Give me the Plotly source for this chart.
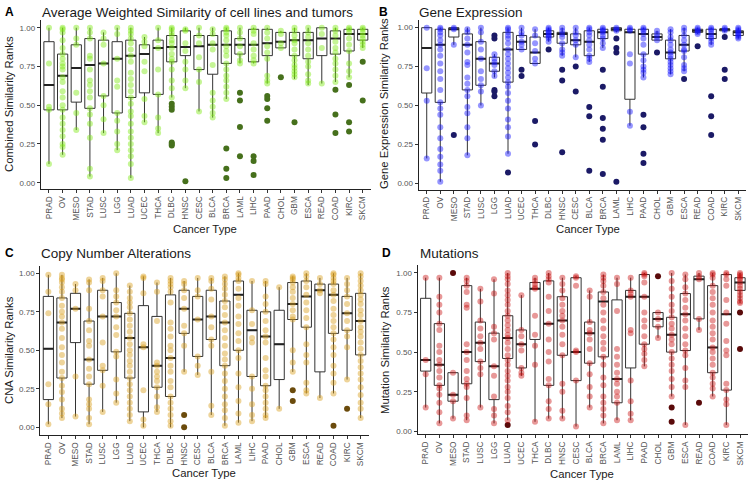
import plotly.graph_objects as go

W, H = 749, 483

categories = ["PRAD", "OV", "MESO", "STAD", "LUSC", "LGG", "LUAD", "UCEC", "THCA", "DLBC",
              "HNSC", "CESC", "BLCA", "BRCA", "LAML", "LIHC", "PAAD", "CHOL", "GBM", "ESCA",
              "READ", "COAD", "KIRC", "SKCM"]

# ---------------- Panel A: combined ----------------
a_q1 = [0.47, 0.47, 0.52, 0.48, 0.56, 0.45, 0.55, 0.58, 0.57, 0.78, 0.82, 0.73, 0.70, 0.77, 0.83, 0.78, 0.82, 0.87, 0.82, 0.80, 0.82, 0.83, 0.85, 0.92]
a_med = [0.63, 0.69, 0.74, 0.76, 0.77, 0.80, 0.82, 0.83, 0.87, 0.875, 0.875, 0.88, 0.89, 0.89, 0.89, 0.89, 0.90, 0.91, 0.92, 0.92, 0.93, 0.93, 0.96, 0.96]
a_q3 = [0.91, 0.83, 0.89, 0.93, 0.92, 0.91, 0.92, 0.89, 0.92, 0.95, 0.98, 0.95, 0.95, 0.98, 0.93, 0.99, 0.99, 0.97, 0.97, 0.97, 1.00, 0.98, 0.99, 0.99]
a_lo = [0.12, 0.18, 0.34, 0.04, 0.32, 0.21, 0.03, 0.39, 0.32, 0.55, 0.61, 0.46, 0.42, 0.54, 0.77, 0.77, 0.64, 0.87, 0.67, 0.63, 0.64, 0.65, 0.68, 0.87]
a_hi = [1.00, 1.00, 1.00, 1.00, 0.97, 1.00, 1.00, 0.94, 1.00, 1.00, 1.00, 1.00, 1.00, 1.00, 1.00, 1.00, 1.00, 0.98, 1.00, 1.00, 1.00, 1.00, 1.00, 1.00]
a_points = [
    [1.0, 0.77, 0.49, 0.47, 0.12],
    [1.0, 0.99, 0.97, 0.92, 0.87, 0.83, 0.80, 0.77, 0.75, 0.73, 0.68, 0.65, 0.59, 0.55, 0.50, 0.47, 0.42, 0.38, 0.34, 0.30, 0.25, 0.23, 0.18],
    [1.0, 0.93, 0.89, 0.58, 0.45, 0.34],
    [1.0, 0.97, 0.93, 0.82, 0.80, 0.73, 0.66, 0.63, 0.59, 0.55, 0.48, 0.44, 0.38, 0.29, 0.09, 0.04],
    [0.97, 0.93, 0.89, 0.77, 0.56, 0.50, 0.41, 0.32],
    [1.0, 0.96, 0.80, 0.66, 0.62, 0.45, 0.40, 0.33, 0.25, 0.21],
    [1.0, 0.98, 0.96, 0.93, 0.90, 0.86, 0.82, 0.78, 0.71, 0.67, 0.63, 0.59, 0.55, 0.51, 0.46, 0.43, 0.38, 0.33, 0.29, 0.25, 0.21, 0.17, 0.12, 0.03],
    [0.94, 0.91, 0.88, 0.78, 0.72, 0.54, 0.43, 0.39],
    [1.0, 0.92, 0.87, 0.73, 0.57, 0.42, 0.35, 0.32],
    [1.0, 0.99, 0.97, 0.95, 0.92, 0.90, 0.87, 0.83, 0.80, 0.78, 0.73, 0.66, 0.61, 0.55],
    [0.99, 0.98, 0.90, 0.85, 0.78, 0.73, 0.66, 0.61],
    [1.0, 0.95, 0.90, 0.81, 0.73, 0.65, 0.46],
    [0.99, 0.96, 0.90, 0.86, 0.76, 0.58, 0.53, 0.49, 0.45, 0.42],
    [1.0, 0.99, 0.97, 0.95, 0.92, 0.88, 0.85, 0.82, 0.77, 0.73, 0.69, 0.66, 0.62, 0.58, 0.54],
    [1.0, 0.97, 0.93, 0.88, 0.83, 0.79, 0.77],
    [1.0, 0.98, 0.96, 0.90, 0.86, 0.82, 0.79, 0.77],
    [1.0, 0.97, 0.93, 0.88, 0.84, 0.80, 0.69, 0.66, 0.64],
    [0.98, 0.96, 0.90, 0.87],
    [1.0, 0.98, 0.95, 0.92, 0.90, 0.86, 0.82, 0.79, 0.76, 0.74, 0.72, 0.70, 0.68],
    [1.0, 0.97, 0.94, 0.90, 0.86, 0.82, 0.78, 0.75, 0.70, 0.66, 0.64],
    [1.0, 0.96, 0.87, 0.64],
    [1.0, 0.98, 0.95, 0.91, 0.87, 0.84, 0.80, 0.77, 0.73, 0.69, 0.65],
    [1.0, 0.99, 0.97, 0.93, 0.89, 0.85, 0.77, 0.72, 0.68],
    [1.0, 0.99, 0.97, 0.95, 0.93, 0.91, 0.89, 0.87],
]
a_out = [[], [], [], [], [], [], [], [], [], [0.51, 0.49, 0.47, 0.26, 0.25, 0.24],
         [0.01], [], [], [0.22, 0.09, 0.03], [0.58, 0.53, 0.36, 0.17], [0.17, 0.14, 0.05],
         [0.56, 0.54, 0.48, 0.40], [0.68], [0.39], [], [], [0.60, 0.44, 0.32], [0.63, 0.39, 0.33], [0.78, 0.53]]

# ---------------- Panel B: gene expression ----------------
b_q1 = [0.58, 0.52, 0.94, 0.60, 0.63, 0.72, 0.65, 0.86, 0.77, 0.94, 0.90, 0.89, 0.82, 0.93, 0.98, 0.54, 0.83, 0.92, 0.80, 0.85, 0.97, 0.93, 0.98, 0.95]
b_med = [0.87, 0.89, 0.99, 0.89, 0.80, 0.77, 0.86, 0.91, 0.84, 0.96, 0.96, 0.92, 0.91, 0.97, 0.99, 0.97, 0.96, 0.94, 0.84, 0.89, 0.98, 0.96, 0.99, 0.97]
b_q3 = [1.00, 0.99, 1.00, 0.96, 0.91, 0.81, 0.97, 0.95, 0.94, 0.98, 0.97, 0.96, 0.98, 0.99, 1.00, 0.99, 0.99, 0.96, 0.92, 0.95, 0.99, 0.99, 0.99, 0.98]
b_lo = [0.16, 0.01, 0.89, 0.18, 0.50, 0.68, 0.19, 0.86, 0.77, 0.91, 0.82, 0.81, 0.78, 0.87, 0.97, 0.37, 0.68, 0.92, 0.70, 0.72, 0.96, 0.89, 0.97, 0.93]
b_hi = [1.00, 1.00, 1.00, 1.00, 1.00, 0.83, 1.00, 1.00, 0.99, 1.00, 1.00, 1.00, 1.00, 1.00, 1.00, 1.00, 1.00, 0.98, 0.99, 1.00, 1.00, 1.00, 1.00, 1.00]
b_points = [
    [1.0, 0.74, 0.53, 0.16],
    [1.0, 0.99, 0.97, 0.95, 0.92, 0.89, 0.86, 0.82, 0.77, 0.72, 0.67, 0.60, 0.52, 0.48, 0.44, 0.36, 0.29, 0.22, 0.17, 0.12, 0.08, 0.01],
    [1.0, 0.99, 0.89],
    [0.99, 0.97, 0.93, 0.89, 0.84, 0.78, 0.76, 0.68, 0.64, 0.60, 0.56, 0.49, 0.45, 0.36, 0.29, 0.18],
    [1.0, 0.97, 0.91, 0.86, 0.80, 0.72, 0.67, 0.63, 0.59, 0.50],
    [0.83, 0.80, 0.78, 0.76, 0.72, 0.69],
    [1.0, 0.99, 0.97, 0.95, 0.93, 0.90, 0.86, 0.83, 0.80, 0.77, 0.74, 0.71, 0.68, 0.65, 0.62, 0.58, 0.53, 0.48, 0.41, 0.36, 0.30, 0.19],
    [1.0, 0.97, 0.95, 0.91, 0.89, 0.86],
    [0.99, 0.95, 0.90, 0.85, 0.80, 0.77],
    [1.0, 0.99, 0.98, 0.97, 0.96, 0.95, 0.94, 0.93, 0.91],
    [1.0, 0.98, 0.96, 0.94, 0.90, 0.86, 0.84, 0.82],
    [1.0, 0.97, 0.95, 0.92, 0.89, 0.81],
    [1.0, 0.99, 0.97, 0.95, 0.92, 0.89, 0.86, 0.82, 0.80, 0.78],
    [1.0, 0.99, 0.98, 0.97, 0.95, 0.93, 0.90, 0.87],
    [1.0, 0.99, 0.98],
    [1.0, 0.99, 0.98, 0.83, 0.77, 0.46, 0.37],
    [1.0, 0.99, 0.98, 0.96, 0.93, 0.89, 0.83, 0.79, 0.75, 0.73, 0.71, 0.68],
    [0.98, 0.96, 0.94, 0.92],
    [0.99, 0.97, 0.94, 0.92, 0.89, 0.86, 0.84, 0.82, 0.80, 0.78, 0.76, 0.74, 0.72, 0.70],
    [1.0, 0.98, 0.95, 0.92, 0.89, 0.86, 0.85, 0.81, 0.76, 0.74, 0.72],
    [1.0, 0.99, 0.98, 0.97, 0.96],
    [1.0, 0.99, 0.98, 0.96, 0.94, 0.93, 0.91, 0.89],
    [1.0, 0.99, 0.98],
    [1.0, 0.99, 0.98, 0.97, 0.96, 0.95, 0.94, 0.93],
]
b_out = [[], [], [0.31], [], [], [0.95, 0.93, 0.60, 0.59, 0.56], [0.07], [0.73, 0.69], [0.40, 0.25], [0.86],
         [0.73, 0.66, 0.20], [0.75, 0.59], [0.49, 0.43, 0.08], [0.73, 0.62, 0.42, 0.35, 0.28, 0.06],
         [0.93, 0.87, 0.84, 0.01], [], [0.44, 0.36, 0.19, 0.13], [0.84], [], [0.67], [0.88],
         [0.56, 0.43, 0.31], [0.94, 0.73, 0.67], []]

# ---------------- Panel C: copy number alterations ----------------
c_q1 = [0.18, 0.32, 0.55, 0.28, 0.37, 0.49, 0.32, 0.10, 0.26, 0.20, 0.61, 0.46, 0.57, 0.40, 0.50, 0.33, 0.27, 0.31, 0.70, 0.65, 0.36, 0.61, 0.63, 0.47]
c_med = [0.51, 0.68, 0.77, 0.44, 0.72, 0.72, 0.58, 0.52, 0.40, 0.45, 0.77, 0.70, 0.72, 0.68, 0.86, 0.63, 0.59, 0.54, 0.80, 0.85, 0.89, 0.86, 0.74, 0.69]
c_q3 = [0.85, 0.84, 0.87, 0.69, 0.89, 0.81, 0.74, 0.79, 0.72, 0.86, 0.89, 0.85, 0.89, 0.82, 0.95, 0.76, 0.75, 0.76, 0.94, 0.95, 0.93, 0.93, 0.85, 0.87]
c_lo = [0.02, 0.06, 0.07, 0.02, 0.10, 0.16, 0.04, 0.00, 0.10, 0.00, 0.36, 0.34, 0.08, 0.01, 0.03, 0.04, 0.06, 0.12, 0.36, 0.22, 0.19, 0.22, 0.31, 0.06]
c_hi = [0.99, 0.99, 0.93, 0.96, 0.97, 1.00, 0.92, 0.98, 0.94, 0.97, 0.95, 0.97, 0.97, 0.98, 1.00, 0.95, 0.95, 0.91, 0.98, 1.00, 0.97, 1.00, 0.97, 1.00]
c_points = [
    [0.99, 0.88, 0.74, 0.28, 0.15, 0.02],
    [0.99, 0.97, 0.96, 0.94, 0.91, 0.88, 0.84, 0.79, 0.75, 0.72, 0.68, 0.64, 0.58, 0.52, 0.47, 0.42, 0.36, 0.32, 0.27, 0.23, 0.18, 0.12, 0.09, 0.06],
    [0.93, 0.89, 0.77, 0.33, 0.07],
    [0.96, 0.94, 0.89, 0.77, 0.69, 0.63, 0.56, 0.53, 0.44, 0.38, 0.33, 0.28, 0.18, 0.15, 0.12, 0.06, 0.02],
    [0.97, 0.95, 0.89, 0.85, 0.72, 0.55, 0.40, 0.37, 0.27, 0.10],
    [1.0, 0.89, 0.85, 0.81, 0.76, 0.72, 0.65, 0.60, 0.49, 0.46, 0.31, 0.22, 0.16],
    [0.92, 0.88, 0.84, 0.81, 0.78, 0.74, 0.70, 0.66, 0.62, 0.58, 0.54, 0.50, 0.47, 0.43, 0.40, 0.36, 0.32, 0.28, 0.24, 0.20, 0.16, 0.12, 0.08, 0.04],
    [0.98, 0.97, 0.87, 0.54, 0.52, 0.24, 0.05, 0.01],
    [0.94, 0.88, 0.69, 0.42, 0.40, 0.36, 0.33, 0.30, 0.26, 0.20, 0.13, 0.10],
    [0.97, 0.95, 0.93, 0.91, 0.88, 0.81, 0.68, 0.64, 0.59, 0.53, 0.50, 0.45, 0.40, 0.36, 0.30, 0.26, 0.20, 0.16, 0.12, 0.08, 0.04, 0.01],
    [0.95, 0.93, 0.89, 0.84, 0.77, 0.66, 0.61, 0.53, 0.36],
    [0.97, 0.89, 0.85, 0.70, 0.46, 0.40, 0.34],
    [0.97, 0.95, 0.90, 0.83, 0.72, 0.65, 0.57, 0.53, 0.36, 0.14, 0.08],
    [0.98, 0.96, 0.93, 0.90, 0.86, 0.82, 0.78, 0.73, 0.68, 0.63, 0.58, 0.53, 0.48, 0.44, 0.40, 0.35, 0.30, 0.25, 0.20, 0.15, 0.11, 0.06, 0.01],
    [1.0, 0.99, 0.97, 0.95, 0.90, 0.84, 0.79, 0.72, 0.67, 0.61, 0.56, 0.50, 0.45, 0.35, 0.26, 0.17, 0.09, 0.03],
    [0.95, 0.76, 0.67, 0.58, 0.55, 0.33, 0.25, 0.15, 0.08, 0.04],
    [0.95, 0.93, 0.85, 0.80, 0.75, 0.69, 0.63, 0.59, 0.55, 0.45, 0.37, 0.33, 0.27, 0.24, 0.20, 0.16, 0.12, 0.08, 0.06],
    [0.91, 0.12],
    [0.98, 0.97, 0.96, 0.94, 0.91, 0.88, 0.84, 0.80, 0.76, 0.72, 0.70, 0.50, 0.42, 0.36],
    [1.0, 0.98, 0.95, 0.91, 0.86, 0.81, 0.76, 0.71, 0.65, 0.54, 0.47, 0.42, 0.29, 0.24, 0.22],
    [0.97, 0.93, 0.89, 0.87, 0.19],
    [1.0, 0.99, 0.97, 0.95, 0.93, 0.89, 0.86, 0.82, 0.77, 0.73, 0.69, 0.65, 0.61, 0.57, 0.52, 0.47, 0.40, 0.35, 0.29, 0.22],
    [0.97, 0.93, 0.89, 0.85, 0.80, 0.74, 0.69, 0.63, 0.59, 0.52, 0.31],
    [1.0, 0.98, 0.95, 0.92, 0.89, 0.86, 0.83, 0.80, 0.76, 0.73, 0.69, 0.65, 0.62, 0.59, 0.55, 0.51, 0.47, 0.43, 0.39, 0.35, 0.31, 0.26, 0.21, 0.16, 0.12, 0.06],
]
c_out = [[], [], [], [], [], [], [], [], [], [], [0.08, 0.0], [], [], [], [], [], [], [], [0.24, 0.17], [], [],
         [0.01], [0.12], []]

# ---------------- Panel D: mutations ----------------
d_q1 = [0.38, 0.29, 0.19, 0.30, 0.44, 0.20, 0.46, 0.40, 0.58, 0.29, 0.48, 0.32, 0.43, 0.47, 0.18, 0.40, 0.55, 0.66, 0.50, 0.51, 0.71, 0.37, 0.26, 0.89]
d_med = [0.45, 0.42, 0.23, 0.50, 0.56, 0.41, 0.59, 0.55, 0.90, 0.68, 0.70, 0.50, 0.62, 0.82, 0.33, 0.85, 0.85, 0.71, 0.61, 0.74, 0.96, 0.53, 0.74, 0.94]
d_q3 = [0.84, 0.68, 0.37, 0.92, 0.69, 0.62, 0.73, 0.64, 0.94, 0.95, 0.85, 0.97, 0.69, 0.88, 0.83, 0.89, 0.99, 0.75, 0.72, 0.87, 0.98, 0.92, 0.99, 0.97]
d_lo = [0.15, 0.05, 0.08, 0.07, 0.15, 0.05, 0.07, 0.35, 0.06, 0.08, 0.08, 0.03, 0.15, 0.05, 0.07, 0.07, 0.41, 0.59, 0.22, 0.04, 0.64, 0.22, 0.04, 0.81]
d_hi = [0.97, 0.97, 0.37, 0.97, 0.90, 0.96, 1.00, 0.86, 0.97, 1.00, 0.97, 0.98, 0.89, 0.99, 0.97, 0.97, 1.00, 0.75, 1.00, 0.99, 1.00, 1.00, 1.00, 1.00]
d_points = [
    [0.97, 0.45, 0.36, 0.15],
    [0.97, 0.85, 0.80, 0.75, 0.68, 0.64, 0.54, 0.50, 0.45, 0.42, 0.38, 0.34, 0.29, 0.27, 0.23, 0.18, 0.12, 0.05],
    [0.37, 0.23, 0.19, 0.08],
    [0.97, 0.95, 0.92, 0.88, 0.80, 0.78, 0.55, 0.50, 0.45, 0.38, 0.33, 0.30, 0.28, 0.21, 0.10, 0.07],
    [0.90, 0.82, 0.70, 0.65, 0.60, 0.56, 0.52, 0.44, 0.40, 0.36, 0.15],
    [0.96, 0.87, 0.66, 0.62, 0.58, 0.41, 0.35, 0.22, 0.14, 0.10, 0.05],
    [1.0, 0.98, 0.96, 0.93, 0.89, 0.86, 0.83, 0.80, 0.76, 0.73, 0.70, 0.67, 0.64, 0.61, 0.59, 0.56, 0.52, 0.48, 0.45, 0.42, 0.38, 0.35, 0.32, 0.28, 0.25, 0.21, 0.16, 0.12, 0.07],
    [0.86, 0.64, 0.60, 0.55, 0.51, 0.40, 0.37, 0.35],
    [0.97, 0.95, 0.93, 0.91, 0.90, 0.73, 0.61, 0.54, 0.42, 0.06],
    [1.0, 0.98, 0.96, 0.94, 0.85, 0.76, 0.68, 0.58, 0.50, 0.44, 0.33, 0.29, 0.19, 0.14, 0.08],
    [0.97, 0.93, 0.89, 0.84, 0.80, 0.76, 0.73, 0.70, 0.66, 0.61, 0.55, 0.48, 0.30, 0.25, 0.13, 0.08],
    [0.98, 0.97, 0.92, 0.51, 0.50, 0.32, 0.03],
    [0.89, 0.85, 0.69, 0.64, 0.62, 0.58, 0.52, 0.43, 0.36, 0.28, 0.22, 0.15],
    [0.99, 0.97, 0.95, 0.92, 0.88, 0.84, 0.80, 0.75, 0.70, 0.65, 0.60, 0.56, 0.52, 0.47, 0.42, 0.34, 0.29, 0.22, 0.18, 0.14, 0.10, 0.05],
    [0.97, 0.93, 0.76, 0.52, 0.47, 0.42, 0.37, 0.33, 0.30, 0.25, 0.22, 0.18, 0.07],
    [0.97, 0.89, 0.87, 0.85, 0.64, 0.62, 0.32, 0.19, 0.11, 0.07],
    [1.0, 0.99, 0.98, 0.94, 0.85, 0.75, 0.70, 0.66, 0.60, 0.55, 0.52, 0.49, 0.45, 0.41],
    [0.75, 0.71, 0.66, 0.59],
    [1.0, 0.95, 0.90, 0.85, 0.80, 0.76, 0.72, 0.68, 0.65, 0.61, 0.58, 0.55, 0.50, 0.46, 0.42, 0.38, 0.33, 0.28, 0.22],
    [0.99, 0.96, 0.91, 0.87, 0.83, 0.78, 0.74, 0.70, 0.65, 0.60, 0.55, 0.51, 0.48, 0.40, 0.32, 0.28, 0.04],
    [1.0, 0.98, 0.96, 0.71, 0.64],
    [1.0, 0.99, 0.97, 0.92, 0.88, 0.84, 0.80, 0.75, 0.70, 0.66, 0.62, 0.58, 0.53, 0.50, 0.46, 0.42, 0.37, 0.34, 0.30, 0.27, 0.22],
    [1.0, 0.99, 0.96, 0.92, 0.83, 0.75, 0.68, 0.57, 0.51, 0.48, 0.30, 0.26, 0.20, 0.17, 0.04],
    [1.0, 0.99, 0.98, 0.97, 0.96, 0.94, 0.92, 0.90, 0.88, 0.86, 0.84, 0.82, 0.81],
]
d_out = [[], [], [1.0], [], [], [], [0.04], [], [], [], [], [], [], [], [], [], [], [0.98], [0.15, 0.06], [], [0.18],
         [], [], [0.75, 0.52]]

titles = ["Average Weighted Similarity of cell lines and tumors", "Gene Expression",
          "Copy Number Alterations", "Mutations"]
ytitles = ["Combined Similarity Ranks", "Gene Expression Similarity Ranks",
           "CNA Similarity Ranks", "Mutation Similarity Ranks"]
letters = ["A", "B", "C", "D"]
ytickvals = [0.0, 0.25, 0.5, 0.75, 1.0]
yticktext = ["0.00", "0.25", "0.50", "0.75", "1.00"]

panels = [
    dict(q1=a_q1, med=a_med, q3=a_q3, lo=a_lo, hi=a_hi, pts=a_points, out=a_out,
         light="rgba(127,232,20,0.45)", dark="#46701c",
         px=(40.8, 370.9), py=(20.0, 188.9), yr=(-0.04, 1.05),
         title_xy=(40, 12), letter_xy=(3, 12), ytitle_xy=(9, 104), xtitle_xy=(205, 229)),
    dict(q1=b_q1, med=b_med, q3=b_q3, lo=b_lo, hi=b_hi, pts=b_points, out=b_out,
         light="rgba(20,20,255,0.45)", dark="#1b1a66",
         px=(418.6, 746.4), py=(19.9, 189.5), yr=(-0.04, 1.05),
         title_xy=(417, 12), letter_xy=(377, 12), ytitle_xy=(384, 104), xtitle_xy=(588, 229)),
    dict(q1=c_q1, med=c_med, q3=c_q3, lo=c_lo, hi=c_hi, pts=c_points, out=c_out,
         light="rgba(218,160,30,0.45)", dark="#6b4b0c",
         px=(40.2, 368.8), py=(265.6, 435.0), yr=(-0.05, 1.05),
         title_xy=(39, 253), letter_xy=(3, 253), ytitle_xy=(9, 350), xtitle_xy=(204, 473)),
    dict(q1=d_q1, med=d_med, q3=d_q3, lo=d_lo, hi=d_hi, pts=d_points, out=d_out,
         light="rgba(200,10,10,0.42)", dark="#5a0a0a",
         px=(417.5, 748.2), py=(265.3, 434.2), yr=(-0.0185, 1.0485),
         title_xy=(418, 253), letter_xy=(380, 253), ytitle_xy=(385, 350), xtitle_xy=(582, 474)),
]

BOX_W = 0.75
FONT = "Liberation Sans, Arial, Helvetica, sans-serif"
fig = go.Figure()
annotations = []
idx = list(range(len(categories)))

for k, p in enumerate(panels):
    n = "" if k == 0 else str(k + 1)
    xa, ya = "x" + n, "y" + n
    fig.add_trace(go.Box(
        x=idx, q1=p["q1"], median=p["med"], q3=p["q3"],
        lowerfence=p["lo"], upperfence=p["hi"],
        boxpoints=False, width=BOX_W, whiskerwidth=0,
        fillcolor="rgba(255,255,255,0)", line=dict(color="#333333", width=1),
        xaxis=xa, yaxis=ya, showlegend=False, hoverinfo="skip"))
    # thicker median bar, one segment per box (gaps between boxes)
    mx, my = [], []
    for i, m in zip(idx, p["med"]):
        mx += [i - BOX_W / 2, i + BOX_W / 2, None]
        my += [m, m, None]
    fig.add_trace(go.Scatter(
        x=mx, y=my, mode="lines", connectgaps=False,
        line=dict(color="#222222", width=2),
        xaxis=xa, yaxis=ya, showlegend=False, hoverinfo="skip"))
    ox, oy = [], []
    for i, vals in enumerate(p["out"]):
        ox += [i] * len(vals)
        oy += vals
    fig.add_trace(go.Scatter(
        x=ox, y=oy, mode="markers",
        marker=dict(size=6, color=p["dark"], line=dict(width=0)),
        xaxis=xa, yaxis=ya, showlegend=False, hoverinfo="skip"))
    lx, ly = [], []
    for i, vals in enumerate(p["pts"]):
        lx += [i] * len(vals)
        ly += vals
    fig.add_trace(go.Scatter(
        x=lx, y=ly, mode="markers",
        marker=dict(size=6, color=p["light"], line=dict(width=0)),
        xaxis=xa, yaxis=ya, showlegend=False, hoverinfo="skip"))

    xdom = [p["px"][0] / W, min(p["px"][1] / W, 1.0)]
    ydom = [1 - p["py"][1] / H, 1 - p["py"][0] / H]
    fig.layout["xaxis" + n] = dict(
        domain=xdom, anchor=ya, range=[-0.6, 23.6], automargin=False,
        tickmode="array", tickvals=idx, ticktext=categories, tickangle=-90,
        showgrid=False, zeroline=False, showline=True, linecolor="#222222", linewidth=1,
        ticks="outside", ticklen=3, tickcolor="#333333", tickwidth=1,
        tickfont=dict(family=FONT, size=8.3, color="#555555"))
    fig.layout["yaxis" + n] = dict(
        domain=ydom, anchor=xa, range=list(p["yr"]), automargin=False,
        tickmode="array", tickvals=ytickvals, ticktext=yticktext,
        showgrid=False, zeroline=False, showline=True, linecolor="#222222", linewidth=1,
        ticks="outside", ticklen=3, tickcolor="#333333", tickwidth=1,
        tickfont=dict(family=FONT, size=8, color="#555555"))

    annotations.append(dict(text="<b>" + letters[k] + "</b>", x=p["letter_xy"][0] / W, y=1 - p["letter_xy"][1] / H,
                            xref="paper", yref="paper", xanchor="left", yanchor="middle", showarrow=False,
                            font=dict(family=FONT, size=12, color="#000000")))
    annotations.append(dict(text=titles[k], x=p["title_xy"][0] / W, y=1 - p["title_xy"][1] / H,
                            xref="paper", yref="paper", xanchor="left", yanchor="middle", showarrow=False,
                            font=dict(family=FONT, size=13.5, color="#1a1a1a")))
    annotations.append(dict(text=ytitles[k], x=p["ytitle_xy"][0] / W, y=1 - p["ytitle_xy"][1] / H,
                            xref="paper", yref="paper", xanchor="center", yanchor="middle", textangle=-90,
                            showarrow=False, font=dict(family=FONT, size=11.3, color="#1a1a1a")))
    annotations.append(dict(text="Cancer Type", x=p["xtitle_xy"][0] / W, y=1 - p["xtitle_xy"][1] / H,
                            xref="paper", yref="paper", xanchor="center", yanchor="middle",
                            showarrow=False, font=dict(family=FONT, size=11.3, color="#1a1a1a")))

fig.update_layout(
    width=W, height=H, margin=dict(l=0, r=0, t=0, b=0),
    paper_bgcolor="white", plot_bgcolor="white",
    annotations=annotations, font=dict(family=FONT),
)

# remove the browser's default 8px body margin so the figure sits at the window's corner
fig.write_html("out.html",
               config={"displayModeBar": False},
               post_script="document.body.style.margin='0';document.body.style.padding='0';"
                           "document.body.style.overflow='hidden';")
